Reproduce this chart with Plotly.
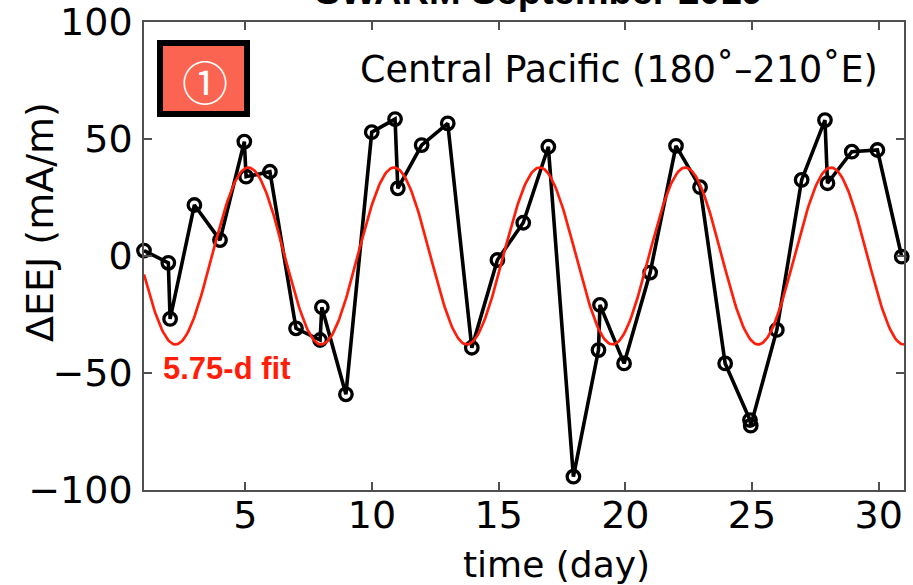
import numpy as np
import plotly.graph_objects as go

# ---- data ----
day = [1.0, 1.96, 2.03, 2.99, 4.0, 4.96, 5.03, 5.97, 7.0, 7.95,
       8.02, 8.97, 9.99, 10.91, 11.02, 11.96, 12.99, 13.94, 14.95, 15.97,
       16.96, 17.95, 18.94, 19.0, 19.95, 20.98, 22.0, 22.95, 23.94, 24.92,
       24.95, 25.98, 26.96, 27.88, 27.98, 28.94, 29.95, 30.91]
eej = [2.3, -2.9, -26.9, 21.8, 6.8, 48.9, 33.9, 36.0, -30.9, -35.9,
       -21.9, -59.1, 52.9, 58.5, 28.9, 47.4, 56.7, -39.2, -1.7, 14.2,
       46.7, -94.3, -40.2, -20.9, -45.9, -7.1, 47.1, 29.4, -45.9, -70.1,
       -72.5, -31.6, 32.5, 58.1, 31.1, 44.6, 45.3, -0.3]

# 5.75-day sinusoidal fit parameters
fit_period = 5.75
fit_amplitude = 37.8
fit_peak_day = 5.12
fit_offset = 0.0

x_ticks = [5, 10, 15, 20, 25, 30]
y_ticks = [-100, -50, 0, 50, 100]

t_fit = np.linspace(1, 31, 600)
y_fit = fit_offset + fit_amplitude * np.cos(2 * np.pi * (t_fit - fit_peak_day) / fit_period)

FONT = "DejaVu Sans, Liberation Sans, Arial, sans-serif"
AXC = "#505050"
RED = "#FF1E0A"

fig = go.Figure()
fig.add_trace(go.Scatter(
    x=day, y=eej, mode="lines+markers",
    line=dict(color="black", width=3.6),
    marker=dict(symbol="circle-open", size=12.5, color="black",
                line=dict(width=3.3, color="black")),
    cliponaxis=False, showlegend=False))
fig.add_trace(go.Scatter(
    x=t_fit, y=y_fit, mode="lines",
    line=dict(color=RED, width=2.7), showlegend=False))

W, H = 913, 585
L, R, T, B = 144, 9, 22, 95
pw, ph = W - L - R, H - T - B

def px(x):
    return (x - L) / pw

def py(y):
    return (H - B - y) / ph

axis_common = dict(ticks="inside", ticklen=8, tickwidth=1.5, tickcolor=AXC,
                   showline=True, linecolor=AXC, linewidth=1.5, mirror="ticks",
                   showgrid=False, zeroline=False, automargin=False,
                   tickfont=dict(size=38))

fig.update_layout(
    width=W, height=H,
    margin=dict(l=L, r=R, t=T, b=B),
    paper_bgcolor="white", plot_bgcolor="white",
    font=dict(family=FONT, color="black"),
    xaxis=dict(range=[1, 31], tickvals=x_ticks, ticklabelstandoff=-9, **axis_common),
    yaxis=dict(range=[-100, 100], tickvals=y_ticks, ticklabelstandoff=2, **axis_common),
    shapes=[dict(type="rect", xref="paper", yref="paper",
                 x0=px(160), x1=px(247), y0=py(114), y1=py(43),
                 line=dict(color="black", width=6), fillcolor="#FA6450", layer="above")],
    annotations=[
        dict(text="<b>SWARM September 2019</b>", xref="paper", yref="paper",
             x=px(539), y=py(14), xanchor="center", yanchor="bottom",
             showarrow=False,
             font=dict(size=38, color="black", family="Liberation Sans, Arial, sans-serif")),
        dict(text="time (day)", xref="paper", yref="paper",
             x=px(556), y=py(564), xanchor="center", yanchor="middle",
             showarrow=False, font=dict(size=36, color="black")),
        dict(text="ΔEEJ (mA/m)", xref="paper", yref="paper", textangle=-90,
             x=px(40), y=py(222), xanchor="center", yanchor="middle",
             showarrow=False, font=dict(size=38, color="black")),
        dict(text="Central Pacific (180˚–210˚E)", xref="paper", yref="paper",
             x=px(880), y=py(70), xanchor="right", yanchor="middle",
             showarrow=False, font=dict(size=36.5, color="black")),
        dict(text="<b>5.75-d fit</b>", xref="paper", yref="paper",
             x=px(161), y=py(368), xanchor="left", yanchor="middle",
             showarrow=False,
             font=dict(size=31, color=RED, family="Liberation Sans, Arial, sans-serif")),
        dict(text="①", xref="paper", yref="paper",
             x=px(205), y=py(80), xanchor="center", yanchor="middle",
             showarrow=False, font=dict(size=46, color="white",
                                        family="Noto Sans CJK JP, DejaVu Sans, sans-serif")),
    ],
)

fig.write_html("out.html")
